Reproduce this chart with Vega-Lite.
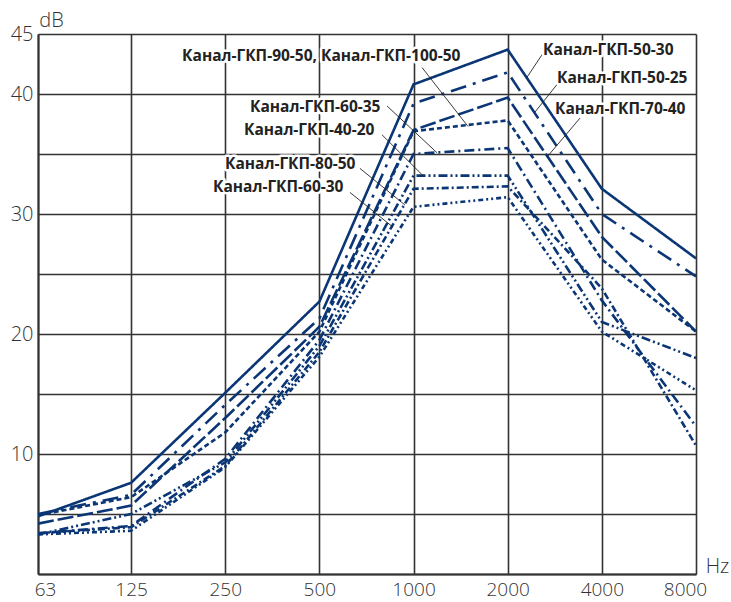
{
  "$schema": "https://vega.github.io/schema/vega-lite/v6.json",
  "width": 658,
  "height": 540,
  "autosize": "none",
  "padding": {"left": 38, "top": 34, "right": 35, "bottom": 28},
  "background": "white",
  "config": {"view": {"stroke": null}, "font": "Open Sans"},
  "datasets": {
    "curves": [
      {"s": "50-30", "f": 63, "db": 4.8}, {"s": "50-30", "f": 125, "db": 7.6}, {"s": "50-30", "f": 250, "db": 15.1}, {"s": "50-30", "f": 500, "db": 22.7}, {"s": "50-30", "f": 1000, "db": 40.8}, {"s": "50-30", "f": 2000, "db": 43.7}, {"s": "50-30", "f": 4000, "db": 32.1}, {"s": "50-30", "f": 8000, "db": 26.3},
      {"s": "50-25", "f": 63, "db": 5.0}, {"s": "50-25", "f": 125, "db": 6.6}, {"s": "50-25", "f": 250, "db": 14.1}, {"s": "50-25", "f": 500, "db": 21.3}, {"s": "50-25", "f": 1000, "db": 39.2}, {"s": "50-25", "f": 2000, "db": 41.8}, {"s": "50-25", "f": 4000, "db": 30.0}, {"s": "50-25", "f": 8000, "db": 24.8},
      {"s": "70-40", "f": 63, "db": 4.2}, {"s": "70-40", "f": 125, "db": 5.7}, {"s": "70-40", "f": 250, "db": 13.0}, {"s": "70-40", "f": 500, "db": 20.6}, {"s": "70-40", "f": 1000, "db": 37.0}, {"s": "70-40", "f": 2000, "db": 39.7}, {"s": "70-40", "f": 4000, "db": 28.1}, {"s": "70-40", "f": 8000, "db": 20.2},
      {"s": "90-50", "f": 63, "db": 4.9}, {"s": "90-50", "f": 125, "db": 6.4}, {"s": "90-50", "f": 250, "db": 11.8}, {"s": "90-50", "f": 500, "db": 20.2}, {"s": "90-50", "f": 1000, "db": 36.9}, {"s": "90-50", "f": 2000, "db": 37.8}, {"s": "90-50", "f": 4000, "db": 26.2}, {"s": "90-50", "f": 8000, "db": 20.2},
      {"s": "60-35", "f": 63, "db": 3.4}, {"s": "60-35", "f": 125, "db": 4.0}, {"s": "60-35", "f": 250, "db": 9.6}, {"s": "60-35", "f": 500, "db": 19.5}, {"s": "60-35", "f": 1000, "db": 35.0}, {"s": "60-35", "f": 2000, "db": 35.5}, {"s": "60-35", "f": 4000, "db": 22.8}, {"s": "60-35", "f": 8000, "db": 12.3},
      {"s": "40-20", "f": 63, "db": 3.3}, {"s": "40-20", "f": 125, "db": 5.0}, {"s": "40-20", "f": 250, "db": 9.3}, {"s": "40-20", "f": 500, "db": 19.0}, {"s": "40-20", "f": 1000, "db": 33.2}, {"s": "40-20", "f": 2000, "db": 33.2}, {"s": "40-20", "f": 4000, "db": 21.0}, {"s": "40-20", "f": 8000, "db": 18.0},
      {"s": "80-50", "f": 63, "db": 3.4}, {"s": "80-50", "f": 125, "db": 3.9}, {"s": "80-50", "f": 250, "db": 9.0}, {"s": "80-50", "f": 500, "db": 18.5}, {"s": "80-50", "f": 1000, "db": 32.1}, {"s": "80-50", "f": 2000, "db": 32.3}, {"s": "80-50", "f": 4000, "db": 23.8}, {"s": "80-50", "f": 8000, "db": 10.7},
      {"s": "60-30", "f": 63, "db": 3.3}, {"s": "60-30", "f": 125, "db": 3.6}, {"s": "60-30", "f": 250, "db": 8.9}, {"s": "60-30", "f": 500, "db": 18.1}, {"s": "60-30", "f": 1000, "db": 30.6}, {"s": "60-30", "f": 2000, "db": 31.4}, {"s": "60-30", "f": 4000, "db": 20.2}, {"s": "60-30", "f": 8000, "db": 15.3}
    ],
    "labels": [
      {"t": "Канал-ГКП-90-50, Канал-ГКП-100-50", "f": 182, "db": 43.2},
      {"t": "Канал-ГКП-50-30", "f": 2595, "db": 43.67},
      {"t": "Канал-ГКП-50-25", "f": 2875, "db": 41.3},
      {"t": "Канал-ГКП-70-40", "f": 2833, "db": 38.75},
      {"t": "Канал-ГКП-60-35", "f": 300, "db": 38.9},
      {"t": "Канал-ГКП-40-20", "f": 287, "db": 37.0},
      {"t": "Канал-ГКП-80-50", "f": 249.6, "db": 34.2},
      {"t": "Канал-ГКП-60-30", "f": 228.5, "db": 32.25}
    ],
    "leaders": [
      {"fa": 1065, "da": 42.2, "fb": 1493, "dbb": 37.3},
      {"fa": 2672, "da": 43.9, "fb": 2306, "dbb": 41.4},
      {"fa": 2897, "da": 40.9, "fb": 2446, "dbb": 38.5},
      {"fa": 3408, "da": 38.0, "fb": 2672, "dbb": 34.75},
      {"fa": 823, "da": 39.0, "fb": 1189, "dbb": 35.1},
      {"fa": 793, "da": 36.6, "fb": 1072, "dbb": 33.2},
      {"fa": 674, "da": 33.8, "fb": 939, "dbb": 30.75},
      {"fa": 626, "da": 31.8, "fb": 860, "dbb": 28.9}
    ]
  },
  "layer": [
    {
      "data": {"name": "curves"},
      "mark": {"type": "line", "color": "#0b3675", "clip": true},
      "encoding": {
        "x": {
          "field": "f", "type": "quantitative",
          "scale": {"type": "log", "base": 2, "domain": [63, 8000], "nice": false},
          "axis": {
            "values": [63, 125, 250, 500, 1000, 2000, 4000, 8000],
            "format": "d",
            "title": "Hz",
            "titleX": 679, "titleY": -2, "titleAlign": "center", "titleBaseline": "alphabetic",
            "titleFontSize": 20, "titleFontWeight": 300, "titleColor": "#333",
            "labelFontSize": 19, "labelFontWeight": 300, "labelColor": "#333", "labelFlush": false,
            "labelPadding": 6,
            "labelOffset": {"condition": [{"test": "datum.value == 63", "value": 7}, {"test": "datum.value == 8000", "value": -11}], "value": 0},
            "ticks": false,
            "grid": true, "gridColor": "#333", "gridWidth": 1.6,
            "domainColor": "#333", "domainWidth": 2
          }
        },
        "y": {
          "field": "db", "type": "quantitative",
          "scale": {"domain": [0, 45], "nice": false},
          "axis": {
            "values": [0, 5, 10, 15, 20, 25, 30, 35, 40, 45],
            "labelExpr": "(datum.value % 10 === 0 && datum.value > 0) || datum.value === 45 ? datum.label : ''",
            "title": "dB", "titleAngle": 0, "titleX": 13, "titleY": -8, "titleAlign": "center", "titleBaseline": "alphabetic",
            "titleFontSize": 20, "titleFontWeight": 300, "titleColor": "#333",
            "labelFontSize": 20, "labelFontWeight": 300, "labelColor": "#333", "labelFlush": false, "labelPadding": 5,
            "ticks": false,
            "grid": true, "gridColor": "#333", "gridWidth": 1.6,
            "domainColor": "#333", "domainWidth": 2
          }
        },
        "detail": {"field": "s"},
        "strokeDash": {
          "field": "s", "type": "nominal", "legend": null,
          "scale": {
            "domain": ["50-30", "50-25", "70-40", "90-50", "60-35", "40-20", "80-50", "60-30"],
            "range": [[1, 0], [16, 7, 3, 7], [16, 4], [5, 3], [10, 4, 2, 4], [9, 3, 2, 3, 2, 3], [7, 3, 2, 3], [5, 3, 2, 3, 2, 3]]
          }
        },
        "strokeWidth": {
          "field": "s", "type": "nominal", "legend": null,
          "scale": {
            "domain": ["50-30", "50-25", "70-40", "90-50", "60-35", "40-20", "80-50", "60-30"],
            "range": [2.6, 2.6, 1.6, 1.4, 1.4, 1.3, 1.3, 1.3]
          }
        }
      }
    },
    {
      "data": {"name": "leaders"},
      "mark": {"type": "rule", "color": "#222", "strokeWidth": 0.9},
      "encoding": {
        "x": {"field": "fa", "type": "quantitative"},
        "y": {"field": "da", "type": "quantitative"},
        "x2": {"field": "fb"},
        "y2": {"field": "dbb"}
      }
    },
    {
      "data": {"name": "labels"},
      "mark": {"type": "text", "align": "left", "baseline": "middle", "fontSize": 15.5, "fontWeight": "bold", "letterSpacing": 0.8, "font": "Open Sans", "stroke": "white", "strokeWidth": 5, "strokeJoin": "round", "fill": "white"},
      "encoding": {
        "x": {"field": "f", "type": "quantitative"},
        "y": {"field": "db", "type": "quantitative"},
        "text": {"field": "t"}
      }
    },
    {
      "data": {"name": "labels"},
      "mark": {"type": "text", "align": "left", "baseline": "middle", "fontSize": 15.5, "fontWeight": "bold", "letterSpacing": 0.8, "font": "Open Sans", "fill": "#222"},
      "encoding": {
        "x": {"field": "f", "type": "quantitative"},
        "y": {"field": "db", "type": "quantitative"},
        "text": {"field": "t"}
      }
    }
  ]
}
